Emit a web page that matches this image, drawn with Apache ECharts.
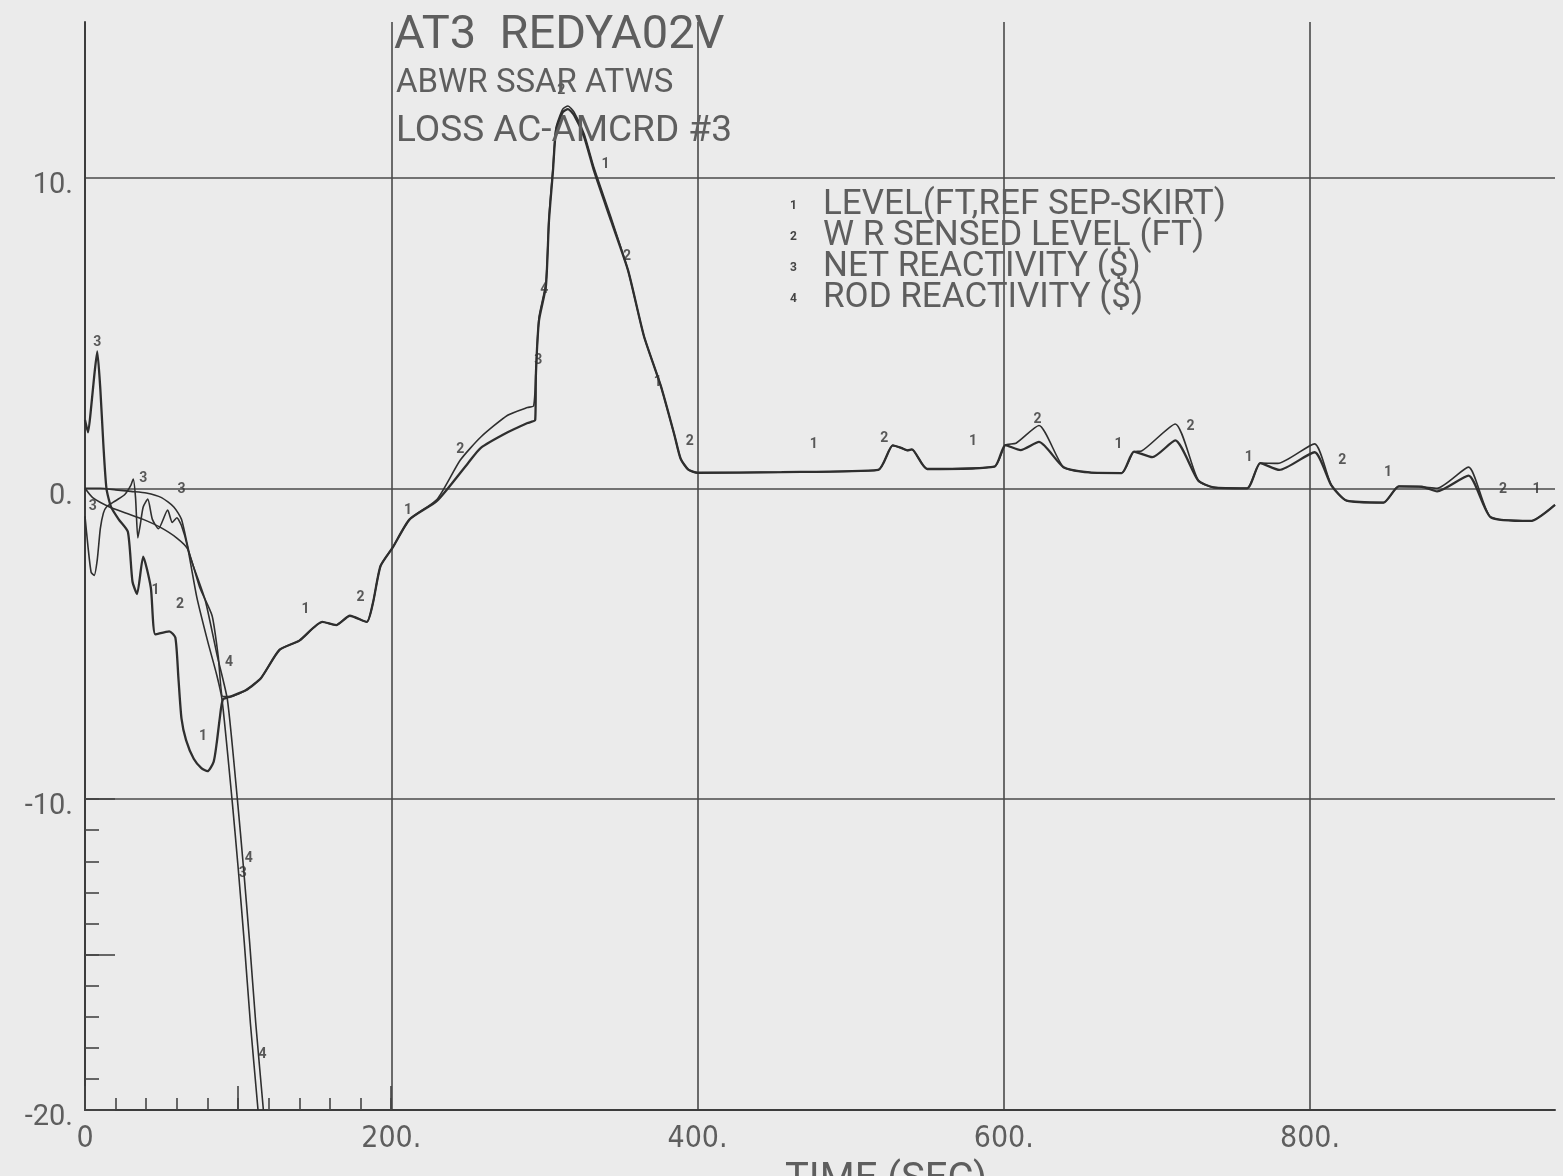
<!DOCTYPE html>
<html><head><meta charset="utf-8">
<script src="https://cdn.jsdelivr.net/npm/echarts@6/dist/echarts.min.js"></script>
<style>html,body{margin:0;padding:0;background:#ebebeb}#c{width:1563px;height:1176px}</style>
</head><body><div id="c"></div>
<script>
// ---- data (time in s, value) ----
const seriesNames = ['LEVEL(FT,REF SEP-SKIRT)', 'W R SENSED LEVEL (FT)', 'NET REACTIVITY ($)', 'ROD REACTIVITY ($)'];
const titleLines = ['AT3  REDYA02V', 'ABWR SSAR ATWS', 'LOSS AC-AMCRD #3'];
const xAxisTitle = 'TIME (SEC)';
const xTicks = [0, 200, 400, 600, 800];
const yTicks = [-20, -10, 0, 10];

const level = [[0,2.2],[2,1.8],[4,2.6],[6,3.6],[8,4.4],[10,3.2],[12,1.4],[14,0.0],[17,-0.6],[22,-1.0],[28,-1.4],[31,-3.0],[34,-3.4],[38,-2.2],[43,-3.2],[46,-4.7],[55,-4.6],[59,-4.8],[61,-6.1],[63,-7.4],[66,-8.1],[71,-8.7],[76,-9.0],[80,-9.1],[84,-8.8],[86,-8.2],[88,-7.4],[90,-6.8],[95,-6.7],[105,-6.5],[115,-6.1],[127,-5.2],[140,-4.9],[155,-4.3],[164,-4.4],[173,-4.1],[184,-4.3],[188,-3.7],[193,-2.5],[201,-1.9],[212,-1.0],[230,-0.4],[250,0.8],[258.5,1.3],[276,1.8],[289,2.1],[294,2.2],[294.5,3.7],[296.5,5.4],[301,6.5],[303,8.6],[305.6,10.2],[307.6,11.5],[312,12.1],[315.4,12.2],[319.4,12.0],[326,11.3],[332.5,10.2],[343.6,8.6],[354.7,7.0],[365,4.9],[376,3.3],[385,1.7],[389,0.95],[394,0.6],[400,0.5],[455,0.52],[518,0.59],[527.5,1.38],[533,1.3],[537,1.22],[540,1.25],[550,0.62],[594,0.70],[601,1.39],[611,1.23],[623,1.49],[639,0.68],[656,0.51],[677,0.49],[685,1.18],[697,1.0],[712,1.54],[727,0.25],[737,0.03],[759,0.0],[767.5,0.81],[780,0.59],[803,1.16],[814,0.09],[824,-0.4],[848,-0.46],[858,0.06],[873,0.05],[883,-0.1],[903.5,0.41],[918,-0.93],[944,-1.05],[960,-0.53]];

const wrLevel = [[0,0.0],[5,-0.3],[16,-0.6],[27,-0.8],[38,-1.0],[49,-1.25],[60,-1.6],[67,-1.95],[75,-3.2],[83,-4.1],[87,-5.4],[90,-6.7],[95,-6.7],[105,-6.5],[115,-6.1],[127,-5.2],[140,-4.9],[155,-4.3],[164,-4.4],[173,-4.1],[184,-4.3],[188,-3.7],[193,-2.5],[201,-1.9],[212,-1.0],[230,-0.35],[245,0.9],[258.5,1.65],[276,2.35],[289,2.6],[293,2.65],[294.5,3.8],[296.5,5.5],[301,6.6],[303,8.7],[305.6,10.3],[307.6,11.6],[312,12.2],[315.4,12.3],[319.4,12.1],[326,11.4],[332.5,10.3],[343.6,8.7],[354.7,7.0],[365,4.9],[376,3.3],[385,1.7],[389,0.95],[394,0.6],[400,0.5],[455,0.52],[518,0.59],[527.5,1.38],[533,1.3],[537,1.22],[540,1.25],[550,0.62],[594,0.70],[601,1.39],[608,1.45],[623,2.02],[639,0.68],[656,0.51],[677,0.49],[685,1.18],[690,1.2],[712,2.07],[727,0.25],[737,0.03],[759,0.0],[767.5,0.81],[779,0.8],[803,1.43],[814,0.09],[824,-0.4],[848,-0.46],[858,0.06],[873,0.05],[883,0.0],[903.5,0.68],[918,-0.93],[944,-1.05],[960,-0.53]];

const netReact = [[0,-0.9],[2,-1.9],[4,-2.7],[6,-2.8],[8,-2.3],[10,-1.3],[12,-0.8],[14,-0.6],[20,-0.4],[26,-0.2],[30,0.1],[31.5,0.3],[33,-0.3],[34.5,-1.6],[36,-1.2],[38,-0.6],[41,-0.35],[44,-1.0],[48,-1.3],[54,-0.7],[57,-1.1],[60,-0.95],[63,-1.2],[67,-1.9],[73,-3.5],[80,-4.9],[86,-6.0],[89.5,-6.8],[96,-10.0],[100,-12.2],[104,-14.6],[108,-17.2],[113,-20]];

const rodReact = [[0,0],[10,0],[20,-0.05],[30,-0.1],[40,-0.15],[50,-0.3],[58,-0.6],[63,-1.0],[68.7,-2.2],[78.5,-3.6],[86.4,-5.4],[93,-6.8],[99.5,-10],[103.5,-12.2],[107.5,-14.6],[111.5,-17.2],[116.5,-20]];

// curve identification numerals written along the traces
const curveMarks = [[46,-3.3,'1'],[77,-8.0,'1'],[144,-3.9,'1'],[211,-0.7,'1'],[340,10.4,'1'],[374,3.4,'1'],[476,1.4,'1'],[580,1.5,'1'],[675,1.4,'1'],[760,1.0,'1'],[851,0.5,'1'],[948,-0.05,'1'],
  [62,-3.75,'2'],[180,-3.5,'2'],[245,1.25,'2'],[354,7.45,'2'],[395,1.5,'2'],[522,1.6,'2'],[622,2.2,'2'],[722,2.0,'2'],[821,0.9,'2'],[926,-0.04,'2'],[311,12.8,'2'],
  [8,4.7,'3'],[5,-0.6,'3'],[38,0.3,'3'],[63,-0.05,'3'],[103,-12.4,'3'],[296,4.1,'3'],
  [94,-5.6,'4'],[107,-11.9,'4'],[116,-18.2,'4'],[300,6.4,'4']];

const FONT = "'Roboto','Liberation Sans','DejaVu Sans',sans-serif";
const NARROW = "'Liberation Sans Narrow','DejaVu Sans Condensed','Roboto Condensed','Roboto',sans-serif";
const INK = '#2f2f2f';
const TXT = '#5e5e5e';

const chart = echarts.init(document.getElementById('c'), null, {renderer: 'canvas'});

function lineSeries(name, data, width) {
  return {name, type: 'line', data, xAxisIndex: 0, yAxisIndex: 0, symbol: 'none', smooth: 0.2,
    lineStyle: {color: INK, width}, itemStyle: {color: INK}, clip: true, z: 3};
}
function tickAxis(type, gridIndex, min, max, interval, len) {
  return {type: 'value', gridIndex, min, max, interval,
    axisLine: {show: false}, axisLabel: {show: false}, splitLine: {show: false},
    axisTick: {show: true, inside: true, length: len, lineStyle: {color: '#444', width: 1.6}}};
}
function hiddenAxis(gridIndex) { return {type: 'value', gridIndex, min: 0, max: 1, show: false}; }

const option = {
  backgroundColor: '#ebebeb',
  animation: false,
  title: [
    {text: titleLines[0], left: 389, top: 8, textStyle: {fontFamily: FONT, fontSize: 47, fontWeight: 'normal', color: TXT}},
    {text: titleLines[1], left: 391, top: 62, textStyle: {fontFamily: FONT, fontSize: 33, fontWeight: 'normal', color: TXT}},
    {text: titleLines[2], left: 391, top: 108, textStyle: {fontFamily: FONT, fontSize: 37, fontWeight: 'normal', color: TXT}},
    {text: xAxisTitle, left: 780, top: 1156, textStyle: {fontFamily: FONT, fontSize: 40, fontWeight: 'normal', color: TXT}}
  ],
  legend: {
    data: seriesNames, orient: 'vertical', left: 779, top: 183, itemGap: -4,
    icon: 'rect', itemWidth: 1, itemHeight: 1, itemStyle: {opacity: 0}, selectedMode: false,
    formatter: name => '{n|' + (seriesNames.indexOf(name) + 1) + '}{t|' + name + '}',
    textStyle: {color: TXT, rich: {
      n: {fontSize: 12, fontWeight: 'bold', color: '#444', width: 33, fontFamily: FONT},
      t: {fontSize: 35, color: TXT, fontFamily: FONT}
    }}
  },
  grid: [
    {left: 85, right: 8, top: 22, bottom: 66},
    {left: 85, width: 306.2, bottom: 66, height: 40},
    {left: 85, width: 306.2, bottom: 66, height: 40},
    {left: 85, width: 40, top: 799.1, bottom: 66},
    {left: 85, width: 40, top: 799.1, bottom: 66}
  ],
  xAxis: [
    {type: 'value', gridIndex: 0, min: 0, max: 960, interval: 200,
      axisLine: {show: true, onZero: false, lineStyle: {color: '#3c3c3c', width: 2}},
      axisTick: {show: false},
      splitLine: {show: true, showMaxLine: false, lineStyle: {color: '#4a4a4a', width: 1.6}},
      axisLabel: {show: true, showMaxLabel: false, margin: 14, fontSize: 30, fontFamily: NARROW, color: TXT,
        formatter: v => xTicks.includes(v) ? (v === 0 ? '0' : v + '.') : ''}},
    tickAxis('value', 1, 0, 200, 20, 12),
    tickAxis('value', 2, 0, 200, 100, 24),
    hiddenAxis(3), hiddenAxis(4)
  ],
  yAxis: [
    {type: 'value', gridIndex: 0, min: -20, max: 15, interval: 10,
      axisLine: {show: true, onZero: false, lineStyle: {color: '#3c3c3c', width: 2}},
      axisTick: {show: false},
      splitLine: {show: true, showMaxLine: false, lineStyle: {color: '#4a4a4a', width: 1.6}},
      axisLabel: {show: true, showMaxLabel: false, margin: 12, fontSize: 29, fontFamily: FONT, color: TXT,
        verticalAlign: 'top', lineHeight: 16,
        formatter: v => yTicks.includes(v) ? v + '.' : ''}},
    hiddenAxis(1), hiddenAxis(2),
    tickAxis('value', 3, -20, -10, 1, 14),
    tickAxis('value', 4, -20, -10, 5, 30)
  ],
  series: [
    lineSeries(seriesNames[0], level, 2.3),
    lineSeries(seriesNames[1], wrLevel, 1.6),
    lineSeries(seriesNames[2], netReact, 1.6),
    lineSeries(seriesNames[3], rodReact, 1.6),
    {name: 'marks', type: 'scatter', data: curveMarks, xAxisIndex: 0, yAxisIndex: 0, symbolSize: 1,
      itemStyle: {color: 'rgba(0,0,0,0)'}, z: 4,
      label: {show: true, position: 'inside', formatter: p => p.value[2], fontSize: 14, fontWeight: 'bold',
        color: '#333', fontFamily: FONT}}
  ]
};
chart.setOption(option);
</script>
</body></html>
